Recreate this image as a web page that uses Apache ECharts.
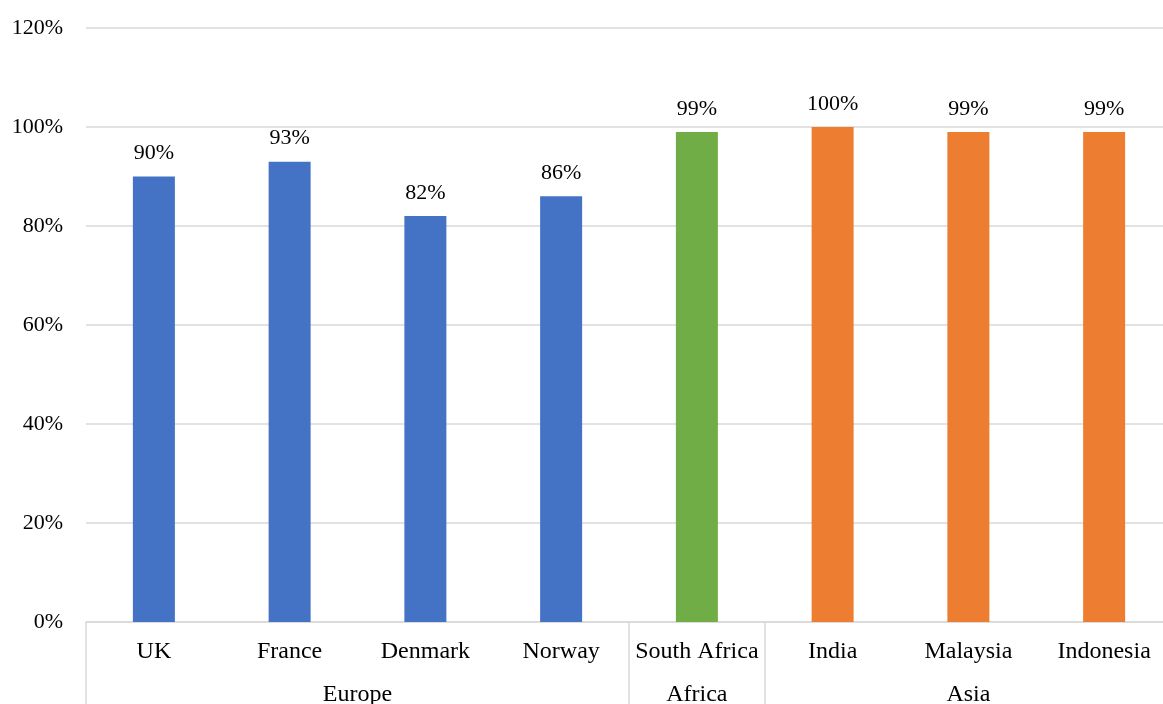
<!DOCTYPE html>
<html>
<head>
<meta charset="utf-8">
<script src="https://cdn.jsdelivr.net/npm/echarts@6/dist/echarts.min.js"></script>
<style>
  html, body { margin: 0; padding: 0; background: #fff; }
  #chart { width: 1163px; height: 704px; }
</style>
</head>
<body>
<div id="chart"></div>
<script>
// Countries, their share (%) and the region each belongs to
const categories = ['UK', 'France', 'Denmark', 'Norway', 'South Africa', 'India', 'Malaysia', 'Indonesia'];
const values = [90, 93, 82, 86, 99, 100, 99, 99];
const regionOf = ['Europe', 'Europe', 'Europe', 'Europe', 'Africa', 'Asia', 'Asia', 'Asia'];
const regions = ['Europe', 'Africa', 'Asia'];
const yTicks = [0, 20, 40, 60, 80, 100, 120];

const regionColor = { Europe: '#4472C4', Africa: '#70AD47', Asia: '#ED7D31' };
const FONT = '"Liberation Serif", "Times New Roman", serif';

// Region spans along the category axis (in category units)
const spans = [];
regions.forEach(r => {
  const first = regionOf.indexOf(r);
  const last = regionOf.lastIndexOf(r);
  spans.push({ name: r, start: first, end: last + 1 });
});
const boundaries = [0].concat(spans.map(s => s.end));
const centers = spans.map(s => (s.start + s.end) / 2);

const chart = echarts.init(document.getElementById('chart'), null, { renderer: 'canvas' });
chart.setOption({
  animation: false,
  grid: { left: 86, width: 1086, top: 28, bottom: 82, containLabel: false, outerBoundsMode: 'none' },
  xAxis: [
    {
      type: 'category',
      data: categories,
      axisLine: { lineStyle: { color: '#d9d9d9', width: 1.5 } },
      axisTick: { show: false },
      axisLabel: { color: '#000', fontFamily: FONT, fontSize: 24, margin: 18, interval: 0, hideOverlap: false }
    },
    {
      // second level: region names with separators between regions
      type: 'value',
      min: 0,
      max: categories.length,
      position: 'bottom',
      axisLine: { show: false },
      splitLine: { show: false },
      axisTick: {
        show: true,
        customValues: boundaries,
        length: 90,
        lineStyle: { color: '#d9d9d9', width: 1.5 }
      },
      axisLabel: {
        show: true,
        customValues: centers,
        margin: 61,
        color: '#000', fontFamily: FONT, fontSize: 24,
        formatter: v => {
          const s = spans.find(sp => Math.abs((sp.start + sp.end) / 2 - v) < 1e-6);
          return s ? s.name : '';
        }
      }
    }
  ],
  yAxis: {
    type: 'value',
    min: yTicks[0],
    max: yTicks[yTicks.length - 1],
    interval: yTicks[1] - yTicks[0],
    axisLine: { show: false },
    axisTick: { show: false },
    splitLine: { lineStyle: { color: '#d9d9d9', width: 1.5 } },
    axisLabel: { color: '#000', fontFamily: FONT, fontSize: 22, margin: 23, formatter: '{value}%' }
  },
  series: [{
    type: 'bar',
    xAxisIndex: 0,
    barWidth: 42,
    data: values.map((v, i) => ({ value: v, itemStyle: { color: regionColor[regionOf[i]] } })),
    label: {
      show: true,
      position: 'top',
      distance: 12,
      color: '#000',
      fontFamily: FONT,
      fontSize: 22,
      formatter: p => p.value + '%'
    }
  }]
});
</script>
</body>
</html>
